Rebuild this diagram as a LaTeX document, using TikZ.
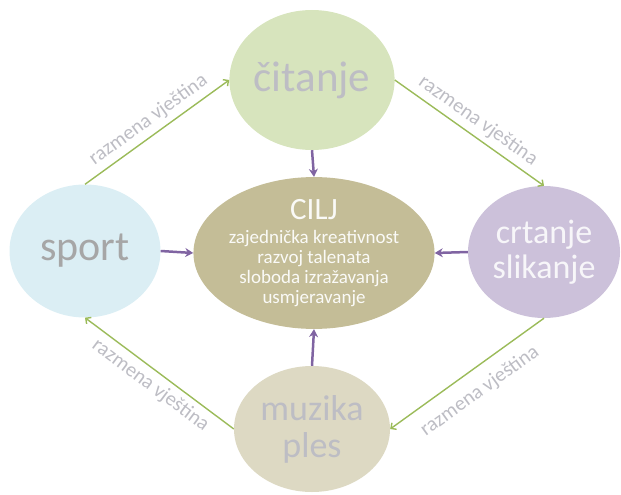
\documentclass[tikz,border=0pt]{standalone}
\usepackage{fontspec}
\setmainfont{Carlito}
\usetikzlibrary{shapes.geometric,arrows.meta}
\definecolor{citanjefill}{HTML}{D7E4BD}
\definecolor{sportfill}{HTML}{DBEEF4}
\definecolor{crtanjefill}{HTML}{CCC1DA}
\definecolor{muzikafill}{HTML}{DDD9C3}
\definecolor{ciljfill}{HTML}{C4BD97}
\definecolor{greyword}{HTML}{BDBDC4}
\definecolor{darkword}{HTML}{A6A6A6}
\definecolor{arcpurple}{HTML}{8064A2}
\definecolor{arcgreen}{HTML}{9BBB59}
\begin{document}
\begin{tikzpicture}[x=1pt,y=-1pt]
                    \tikzset{
                        bubble/.style={ellipse, inner sep=0pt, align=center},
                        goal/.style={->, draw=arcpurple, line width=2.5pt, >={Stealth[length=8pt,width=9pt]}},
                        share/.style={->, draw=arcgreen, line width=1.4pt, >={Straight Barb[length=4pt,width=8pt]}},
                        tag/.style={sloped, text=greyword, font=\fontsize{20.5}{21}\selectfont}
                    }
                    \useasboundingbox (0,0) rectangle (621,495);

                    \draw node[bubble, fill=citanjefill, minimum width=155, minimum height=140, text=greyword, font=\fontsize{43}{44}\selectfont] (citanje) at (312,80) {čitanje};
                    \draw node[bubble, fill=sportfill, minimum width=151, minimum height=133, text=darkword, font=\fontsize{42}{44}\selectfont] (sport) at (85,251) {sport};
                    \draw node[bubble, fill=crtanjefill, minimum width=152, minimum height=132, text=white!85!crtanjefill, font=\fontsize{34}{35}\selectfont] (crtanje) at (544,252) {crtanje\\slikanje};
                    \draw node[bubble, fill=muzikafill, minimum width=156, minimum height=126, text=greyword, font=\fontsize{36}{37}\selectfont] (muzika) at (312,429) {muzika\\ples};
                    \draw node[bubble, fill=ciljfill, minimum width=198, minimum height=127, text=white!92!ciljfill, font=\fontsize{19}{20}\selectfont] (cilj) at (314,253)
                        {{\fontsize{31}{31}\selectfont CILJ}\\[4pt] zajednička kreativnost\\ razvoj talenata\\ sloboda izražavanja\\ usmjeravanje};

                    \foreach \x/\y in {%
                        citanje.south/cilj.north, sport.east/cilj.west, crtanje.west/cilj.east, muzika.north/cilj.south%
                    }{
                    \draw (\x) edge[goal] (\y);
                    }
                    \draw (sport.north) edge[share] node[tag, above=2pt] {razmena vještina} (citanje.west);
                    \draw (citanje.east) edge[share] node[tag, above=2pt] {razmena vještina} (crtanje.north);
                    \draw (crtanje.south) edge[share] node[tag, below=9pt] {razmena vještina} (muzika.east);
                    \draw (muzika.west) edge[share] node[tag, below=2pt] {razmena vještina} (sport.south);
                \end{tikzpicture}
\end{document}
